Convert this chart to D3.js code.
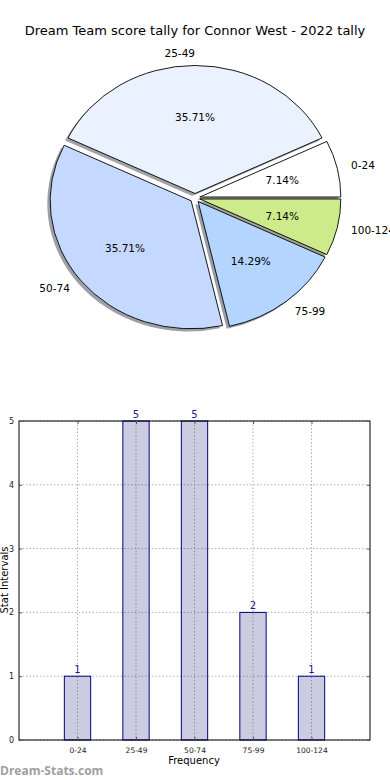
<!DOCTYPE html>
<html>
<head>
    <title>Dream Team score tally</title>
    <script src="https://d3js.org/d3.v7.min.js"></script>
    <style>
        body { margin: 0; background: #fff; }
        text { font-family: "DejaVu Sans", sans-serif; }
    </style>
</head>
<body>
<script>
    // data
    var categories = ["0-24", "25-49", "50-74", "75-99", "100-124"];
    var counts = [1, 5, 5, 2, 1];
    var sliceColors = ["#ffffff", "#eaf1ff", "#c5d8ff", "#b3d5ff", "#cdeb8b"];
    var yTicks = [0, 1, 2, 3, 4, 5];

    var w = 390, h = 780;
    var svg = d3.select("body").append("svg")
                .attr("width", w)
                .attr("height", h);

    svg.append("text")
        .attr("x", 195).attr("y", 35)
        .attr("text-anchor", "middle")
        .style("font-size", "13px")
        .text("Dream Team score tally for Connor West - 2022 tally");

    // ---- pie (matplotlib style: counter clockwise from east, exploded, shadow)
    var cx = 195, cy = 198;
    var rx = 141, ry = 128;   // pie is a bit stretched
    var explode = 0.035;
    var total = d3.sum(counts);

    var pie = d3.pie().sort(null)
                .startAngle(Math.PI / 2)
                .endAngle(Math.PI / 2 - 2 * Math.PI);
    var arc = d3.arc().innerRadius(0).outerRadius(1);
    var slices = pie(counts);

    function dir(d) {
        var a = (d.startAngle + d.endAngle) / 2;
        return [Math.sin(a), -Math.cos(a)];
    }

    var pieG = svg.append("g");

    // shadows first, all below wedges
    pieG.selectAll("path.shadow")
        .data(slices)
        .enter()
        .append("path")
        .attr("class", "shadow")
        .attr("transform", function(d) {
            var u = dir(d);
            return "translate(" + (cx + (u[0] * explode - 0.02) * rx) + "," + (cy + (u[1] * explode + 0.02) * ry) + ") scale(" + rx + "," + ry + ")";
        })
        .attr("d", arc)
        .attr("fill", function(d, i) {
            var c = d3.rgb(sliceColors[i]);
            return d3.rgb(c.r * 0.3, c.g * 0.3, c.b * 0.3);
        })
        .attr("fill-opacity", 0.5);

    pieG.selectAll("path.wedge")
        .data(slices)
        .enter()
        .append("path")
        .attr("class", "wedge")
        .attr("transform", function(d) {
            var u = dir(d);
            return "translate(" + (cx + u[0] * explode * rx) + "," + (cy + u[1] * explode * ry) + ") scale(" + rx + "," + ry + ")";
        })
        .attr("d", arc)
        .attr("fill", function(d, i) { return sliceColors[i]; })
        .attr("stroke", "#000")
        .attr("stroke-width", 0.9)
        .attr("vector-effect", "non-scaling-stroke");

    // category labels at 1.1 radius
    pieG.selectAll("text.lab")
        .data(slices)
        .enter()
        .append("text")
        .attr("class", "lab")
        .attr("x", function(d) { return cx + dir(d)[0] * (explode + 1.1) * rx; })
        .attr("y", function(d) { return cy + dir(d)[1] * (explode + 1.1) * ry; })
        .attr("dy", "0.36em")
        .attr("text-anchor", function(d) { return dir(d)[0] > 1e-9 ? "start" : "end"; })
        .style("font-size", "10.5px")
        .text(function(d, i) { return categories[i]; });

    // percentages at 0.6 radius
    pieG.selectAll("text.pct")
        .data(slices)
        .enter()
        .append("text")
        .attr("class", "pct")
        .attr("x", function(d) { return cx + dir(d)[0] * (explode + 0.6) * rx; })
        .attr("y", function(d) { return cy + dir(d)[1] * (explode + 0.6) * ry; })
        .attr("dy", "0.36em")
        .attr("text-anchor", "middle")
        .style("font-size", "10.5px")
        .text(function(d) { return (d.value / total * 100).toFixed(2) + "%"; });

    // ---- bar chart
    var plotL = 19, plotR = 370, plotT = 421, plotB = 740;
    var x = d3.scaleLinear().domain([0, categories.length + 1]).range([plotL, plotR]);
    var y = d3.scaleLinear().domain([0, 5]).range([plotB, plotT]);
    var barW = 0.45;

    var barG = svg.append("g");

    // grid
    barG.selectAll("line.hgrid")
        .data(yTicks)
        .enter().append("line")
        .attr("x1", plotL).attr("x2", plotR)
        .attr("y1", function(d) { return y(d); })
        .attr("y2", function(d) { return y(d); })
        .attr("stroke", "#b0b0b0")
        .attr("stroke-width", 1)
        .attr("stroke-dasharray", "1.5,2");

    barG.selectAll("line.vgrid")
        .data(categories)
        .enter().append("line")
        .attr("x1", function(d, i) { return x(i + 1); })
        .attr("x2", function(d, i) { return x(i + 1); })
        .attr("y1", plotT).attr("y2", plotB)
        .attr("stroke", "#b0b0b0")
        .attr("stroke-width", 1)
        .attr("stroke-dasharray", "1.5,2");

    barG.selectAll("rect.bar")
        .data(counts)
        .enter().append("rect")
        .attr("x", function(d, i) { return x(i + 1 - barW / 2); })
        .attr("y", function(d) { return y(d); })
        .attr("width", function() { return x(barW) - x(0); })
        .attr("height", function(d) { return y(0) - y(d); })
        .attr("fill", "#191970")
        .attr("fill-opacity", 0.22)
        .attr("stroke", "#000080")
        .attr("stroke-width", 1);

    barG.selectAll("text.val")
        .data(counts)
        .enter().append("text")
        .attr("x", function(d, i) { return x(i + 1); })
        .attr("y", function(d) { return y(d) - 3; })
        .attr("text-anchor", "middle")
        .attr("fill", "#1a1a8c")
        .style("font-size", "10px")
        .text(function(d) { return d; });

    // frame
    barG.append("rect")
        .attr("x", plotL).attr("y", plotT)
        .attr("width", plotR - plotL).attr("height", plotB - plotT)
        .attr("fill", "none")
        .attr("stroke", "#000")
        .attr("stroke-width", 1);

    // ticks (inside, both sides)
    var yAxisL = d3.axisLeft(y).tickValues(yTicks).tickFormat(d3.format("d"))
                   .tickSizeInner(-3).tickSizeOuter(0).tickPadding(5);
    var gyl = barG.append("g").attr("transform", "translate(" + plotL + ",0)").call(yAxisL);
    gyl.select(".domain").remove();
    gyl.selectAll("line").attr("stroke", "#555");
    gyl.selectAll("text").style("font-size", "8px").style("font-family", "DejaVu Sans").attr("fill", "#222");

    var yAxisR = d3.axisRight(y).tickValues(yTicks).tickSizeInner(-3).tickSizeOuter(0).tickFormat("");
    var gyr = barG.append("g").attr("transform", "translate(" + plotR + ",0)").call(yAxisR);
    gyr.select(".domain").remove();
    gyr.selectAll("line").attr("stroke", "#555");

    var xAxis = d3.axisBottom(x).tickValues([1, 2, 3, 4, 5])
                  .tickFormat(function(d) { return categories[d - 1]; })
                  .tickSizeInner(-3).tickSizeOuter(0).tickPadding(8);
    var gx = barG.append("g").attr("transform", "translate(0," + plotB + ")").call(xAxis);
    gx.select(".domain").remove();
    gx.selectAll("line").attr("stroke", "#555");
    gx.selectAll("text").style("font-size", "7.5px").style("font-family", "DejaVu Sans").attr("fill", "#222");

    var xAxisT = d3.axisTop(x).tickValues([1, 2, 3, 4, 5]).tickSizeInner(-3).tickSizeOuter(0).tickFormat("");
    var gxt = barG.append("g").attr("transform", "translate(0," + plotT + ")").call(xAxisT);
    gxt.select(".domain").remove();
    gxt.selectAll("line").attr("stroke", "#555");

    svg.append("text")
        .attr("x", 194).attr("y", 764)
        .attr("text-anchor", "middle")
        .style("font-size", "10px")
        .text("Frequency");

    svg.append("text")
        .attr("transform", "translate(7.5,580) rotate(-90)")
        .attr("text-anchor", "middle")
        .style("font-size", "10px")
        .text("Stat Intervals");

    svg.append("text")
        .attr("x", 0).attr("y", 775)
        .style("font-family", "'Open Sans', sans-serif")
        .style("font-size", "12px")
        .style("font-weight", "bold")
        .attr("fill", "#a0a0a0")
        .text("Dream-Stats.com");
</script>
</body>
</html>
